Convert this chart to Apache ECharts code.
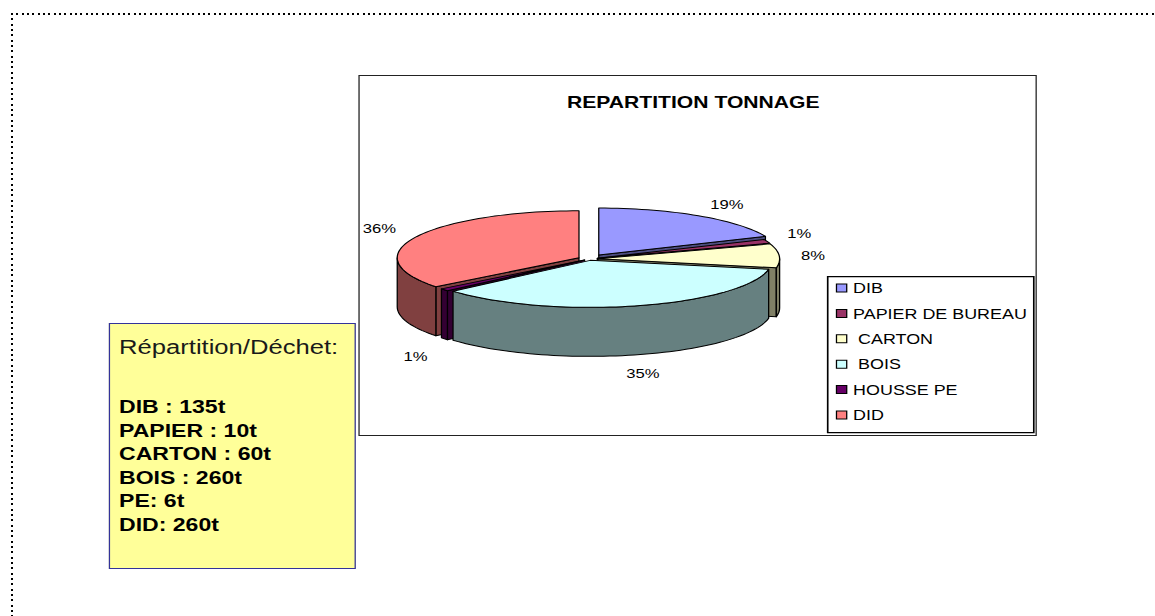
<!DOCTYPE html>
<html lang="fr">
<head>
    <meta charset="UTF-8">
    <title>Repartition tonnage</title>
    <script src="https://cdn.jsdelivr.net/npm/echarts/dist/echarts.min.js"></script>
    <style>
html, body{
    margin:0;
    padding:0;
    background:#fff;
}
body{
    width:1155px;
    height:616px;
    position:relative;
    overflow:hidden;
}
/* pointillés de la page */
.dots-top{
    position:absolute;
    left:11px;
    top:13px;
    width:1144px;
    height:2px;
    background:repeating-linear-gradient(to right, #000 0 2px, transparent 2px 5.33px);
}
.dots-left{
    position:absolute;
    left:11px;
    top:13px;
    width:2px;
    height:603px;
    background:repeating-linear-gradient(to bottom, #000 0 2px, transparent 2px 5.33px);
}
/* la capture d'origine est étirée en largeur */
.stage{
    position:absolute;
    left:0;
    top:0;
    width:903px;
    height:616px;
    transform:scaleX(1.28);
    transform-origin:0 0;
}
#chart{
    position:absolute;
    left:280px;
    top:75px;
    width:530px;
    height:361px;
    box-sizing:border-box;
    border:1px solid #222;
    background:#fff;
}
.note{
    position:absolute;
    left:85px;
    top:323px;
    width:193px;
    height:246px;
    box-sizing:border-box;
    border:1px solid #33339a;
    background:#ffff99;
    font-family:"Liberation Sans", Arial, sans-serif;
    color:#000;
    padding:11px 0 0 7px;
}
.note-head{
    font-size:20px;
    line-height:24px;
    color:#1a1a1a;
}
.note-list{
    margin-top:37px;
    font-size:18px;
    font-weight:bold;
    line-height:23.5px;
}
    </style>
</head>
<body>
<div class="dots-top"></div>
<div class="dots-left"></div>
<div class="stage">
    <div id="chart"></div>
    <div class="note">
        <div class="note-head">Répartition/Déchet:</div>
        <div class="note-list">
            DIB : 135t<br>
            PAPIER : 10t<br>
            CARTON : 60t<br>
            BOIS : 260t<br>
            PE: 6t<br>
            DID: 260t
        </div>
    </div>
</div>
<script type="text/javascript">
    var categories = ['DIB', 'PAPIER DE BUREAU', ' CARTON', ' BOIS', 'HOUSSE PE', 'DID'];
    var tonnes = [135, 10, 60, 260, 6, 260];
    var pctLabels = ['19%', '1%', '8%', '35%', '1%', '36%'];

    var colors = ['#9999ff', '#993366', '#ffffcc', '#ccffff', '#660066', '#ff8080'];
    var sideColors = ['#4d4d80', '#4d1a33', '#808066', '#668080', '#330033', '#804040'];
    var explode = [0.1, 0.05, 0.05, 0.03, 0.03, 0.06];
    var drawOrder = [0, 5, 1, 2, 4, 3];   // du fond vers l'avant

    // camembert "3D" : ellipse + épaisseur
    var CX = 179, CY = 183, RX = 142, RY = 47, DEPTH = 49;

    var total = 0;
    tonnes.forEach(function (v) { total += v; });
    var angles = [];
    var acc = 0;
    tonnes.forEach(function (v) {
        angles.push([acc / total * 360, (acc + v) / total * 360]);
        acc += v;
    });

    function rad(d) { return d * Math.PI / 180; }

    // angle compté en degrés depuis midi, sens horaire
    function pt(c, deg, k, drop) {
        return [c[0] + RX * k * Math.sin(rad(deg)), c[1] - RY * k * Math.cos(rad(deg)) + (drop || 0)];
    }

    function renderSlice(i) {
        var a0 = angles[i][0], a1 = angles[i][1];
        var mid = (a0 + a1) / 2;
        var c = [CX + RX * explode[i] * Math.sin(rad(mid)), CY - RY * explode[i] * Math.cos(rad(mid))];
        var cb = [c[0], c[1] + DEPTH];
        var children = [];

        function styled(fill) {
            return {fill: fill, stroke: '#000', lineWidth: 1, lineJoin: 'round'};
        }
        function face(deg) {
            var p = pt(c, deg, 1);
            return {
                type: 'polygon',
                shape: {points: [c, p, [p[0], p[1] + DEPTH], cb]},
                style: styled(sideColors[i])
            };
        }
        // faces de coupe visibles
        if (Math.sin(rad(a0)) < -1e-9) children.push(face(a0));
        if (Math.sin(rad(a1)) > 1e-9) children.push(face(a1));

        // paroi extérieure (moitié avant seulement)
        var w0 = Math.max(a0, 90), w1 = Math.min(a1, 270);
        if (w1 > w0) {
            var top = [], bot = [];
            var n = Math.max(2, Math.ceil((w1 - w0) / 2));
            for (var k = 0; k <= n; k++) {
                var d = w0 + (w1 - w0) * k / n;
                top.push(pt(c, d, 1));
                bot.push(pt(c, d, 1, DEPTH));
            }
            children.push({
                type: 'polygon',
                shape: {points: top.concat(bot.reverse())},
                style: styled(sideColors[i])
            });
        }

        // dessus
        var pts = [c];
        var m = Math.max(2, Math.ceil((a1 - a0) / 2));
        for (var j = 0; j <= m; j++) {
            pts.push(pt(c, a0 + (a1 - a0) * j / m, 1));
        }
        children.push({type: 'polygon', shape: {points: pts}, style: styled(colors[i])});

        // étiquette %
        var s = Math.sin(rad(mid)), co = Math.cos(rad(mid));
        var lp = pt(c, mid, 1.12, co < 0 ? DEPTH + 7 : 0);
        children.push({
            type: 'text',
            x: lp[0],
            y: lp[1],
            style: {
                text: pctLabels[i],
                fill: '#000',
                font: '13px "Liberation Sans", Arial, sans-serif',
                align: s > 0.3 ? 'left' : (s < -0.3 ? 'right' : 'center'),
                verticalAlign: co > 0.3 ? 'bottom' : (co < -0.3 ? 'top' : 'middle')
            }
        });
        return {type: 'group', children: children};
    }

    var series = drawOrder.map(function (i) {
        return {
            type: 'custom',
            name: categories[i],
            coordinateSystem: 'none',
            silent: true,
            data: [tonnes[i]],
            itemStyle: {color: colors[i]},
            renderItem: function () {
                return renderSlice(i);
            }
        };
    });

    var myChart = echarts.init(document.getElementById('chart'), null, {renderer: 'svg'});
    myChart.setOption({
        animation: false,
        title: {
            text: 'REPARTITION TONNAGE',
            left: 157,
            top: 13,
            textStyle: {
                fontFamily: '"Liberation Sans", Arial, sans-serif',
                fontSize: 16.5,
                fontWeight: 'bold',
                color: '#000'
            }
        },
        graphic: [{
            type: 'rect',
            left: 365,
            top: 200,
            shape: {width: 161, height: 156},
            style: {fill: '#fff', stroke: '#000', lineWidth: 1.3}
        }],
        legend: {
            data: categories,
            orient: 'vertical',
            left: 372,
            top: 205,
            padding: 0,
            icon: 'rect',
            itemWidth: 8,
            itemHeight: 8,
            itemGap: 11.4,
            selectedMode: false,
            itemStyle: {borderColor: '#000', borderWidth: 1},
            textStyle: {
                fontFamily: '"Liberation Sans", Arial, sans-serif',
                fontSize: 14,
                lineHeight: 14,
                color: '#000'
            }
        },
        series: series
    });
</script>
</body>
</html>
